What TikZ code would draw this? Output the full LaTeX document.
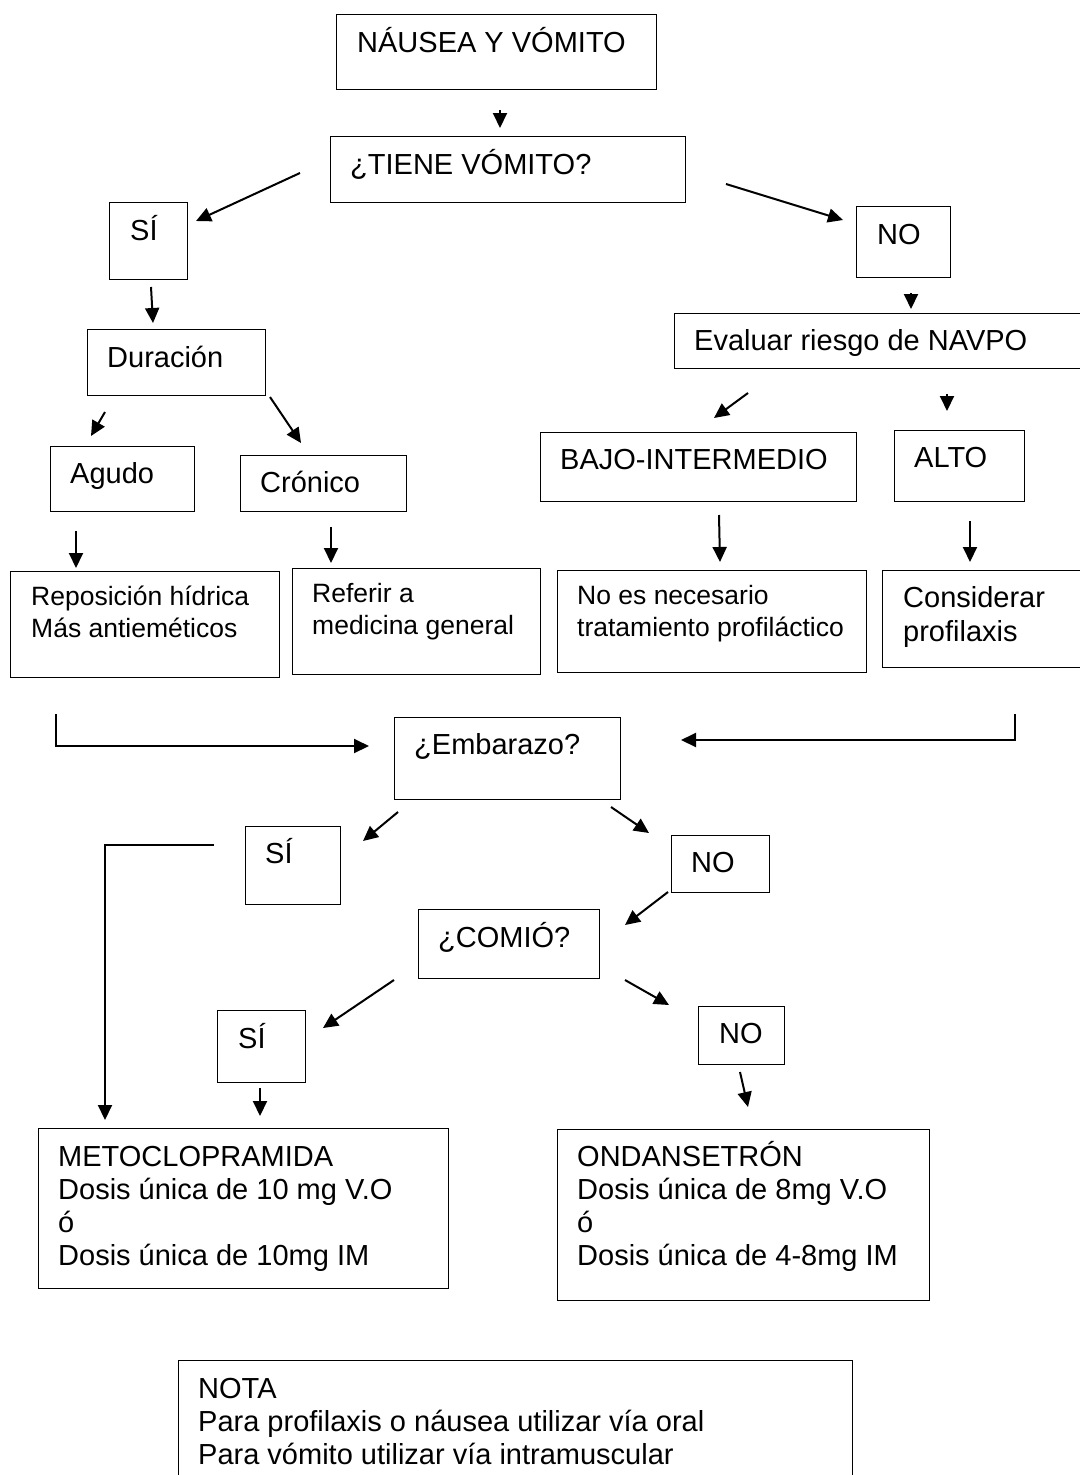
\documentclass[tikz,border=0pt]{standalone}
\usepackage{fontspec}
\setmainfont{Liberation Sans}
\usetikzlibrary{arrows.meta}

\tikzset{
  box/.style={draw, line width=1.3pt, anchor=north west, inner sep=0pt},
  txt/.style={anchor=base west, inner sep=0pt, align=left, font=\fontsize{29}{33}\selectfont},
  txtsm/.style={txt, font=\fontsize{26.5}{32}\selectfont},
  arr/.style={-{Triangle[length=15pt,width=14pt]}, line width=2pt},
}

\begin{document}
\begin{tikzpicture}[x=1pt, y=-1pt]
    \useasboundingbox (0,0) rectangle (1079,1475);

    % Boxes
    \node[box, minimum width=320, minimum height=75] (nausea) at (336,14) {};
    \node[box, minimum width=355, minimum height=66] (tiene) at (330,136) {};
    \node[box, minimum width=78, minimum height=77] (si1) at (109,202) {};
    \node[box, minimum width=94, minimum height=71] (no1) at (856,206) {};
    \node[box, minimum width=416, minimum height=55] (navpo) at (674,313) {};
    \node[box, minimum width=178, minimum height=66] (duracion) at (87,329) {};
    \node[box, minimum width=144, minimum height=65] (agudo) at (50,446) {};
    \node[box, minimum width=166, minimum height=56] (cronico) at (240,455) {};
    \node[box, minimum width=316, minimum height=69] (bajo) at (540,432) {};
    \node[box, minimum width=130, minimum height=71] (alto) at (894,430) {};
    \node[box, minimum width=269, minimum height=106] (repos) at (10,571) {};
    \node[box, minimum width=248, minimum height=106] (referir) at (292,568) {};
    \node[box, minimum width=309, minimum height=102] (noes) at (557,570) {};
    \node[box, minimum width=208, minimum height=97] (consid) at (882,570) {};
    \node[box, minimum width=226, minimum height=82] (embarazo) at (394,717) {};
    \node[box, minimum width=95, minimum height=78] (si2) at (245,826) {};
    \node[box, minimum width=98, minimum height=57] (no2) at (671,835) {};
    \node[box, minimum width=181, minimum height=69] (comio) at (418,909) {};
    \node[box, minimum width=88, minimum height=72] (si3) at (217,1010) {};
    \node[box, minimum width=86, minimum height=58] (no3) at (698,1006) {};
    \node[box, minimum width=410, minimum height=160] (meto) at (38,1128) {};
    \node[box, minimum width=372, minimum height=171] (ondan) at (557,1129) {};
    \node[box, minimum width=674, minimum height=130] (nota) at (178,1360) {};

    % Texts (multi-line texts sit on the baseline of their last line)
    \node[txt] (nausea-t) at (357,52) {NÁUSEA Y VÓMITO};
    \node[txt] (tiene-t) at (350,174) {¿TIENE VÓMITO?};
    \node[txt] (si1-t) at (130,240) {SÍ};
    \node[txt] (no1-t) at (877,244) {NO};
    \node[txt] (navpo-t) at (694,350) {Evaluar riesgo de NAVPO};
    \node[txt] (duracion-t) at (107,367) {Duración};
    \node[txt] (agudo-t) at (70,483) {Agudo};
    \node[txt] (cronico-t) at (260,492) {Crónico};
    \node[txt] (bajo-t) at (560,469) {BAJO-INTERMEDIO};
    \node[txt] (alto-t) at (914,467) {ALTO};
    \node[txtsm] (repos-t) at (31,637) {Reposición hídrica\\Más antieméticos};
    \node[txtsm] (referir-t) at (312,634) {Referir a\\medicina general};
    \node[txtsm] (noes-t) at (577,636) {No es necesario\\tratamiento profiláctico};
    \node[txt, font=\fontsize{29}{34}\selectfont] (consid-t) at (903,641) {Considerar\\profilaxis};
    \node[txt] (embarazo-t) at (414,754) {¿Embarazo?};
    \node[txt] (si2-t) at (265,863) {SÍ};
    \node[txt] (no2-t) at (691,872) {NO};
    \node[txt] (comio-t) at (438,947) {¿COMIÓ?};
    \node[txt] (si3-t) at (238,1048) {SÍ};
    \node[txt] (no3-t) at (719,1043) {NO};
    \node[txt] (meto-t) at (58,1265) {METOCLOPRAMIDA\\Dosis única de 10 mg V.O\\ó\\Dosis única de 10mg IM};
    \node[txt] (ondan-t) at (577,1265) {ONDANSETRÓN\\Dosis única de 8mg V.O\\ó\\Dosis única de 4-8mg IM};
    \node[txt] (nota-t) at (198,1464) {NOTA\\Para profilaxis o náusea utilizar vía oral\\Para vómito utilizar vía intramuscular};

    % Arrow ends
    \coordinate (nausea-out) at (500,110);
    \coordinate (tiene-in) at (500,128);
    \coordinate (tiene-l) at (300,173);
    \coordinate (si1-in) at (196,221);
    \coordinate (tiene-r) at (726,184);
    \coordinate (no1-in) at (843,220);
    \coordinate (si1-out) at (151,287);
    \coordinate (duracion-in) at (153,323);
    \coordinate (no1-out) at (911,293);
    \coordinate (navpo-in) at (911,309);
    \coordinate (duracion-l) at (105,412);
    \coordinate (agudo-in) at (91,436);
    \coordinate (duracion-r) at (270,397);
    \coordinate (cronico-in) at (301,443);
    \coordinate (navpo-l) at (748,393);
    \coordinate (bajo-in) at (714,418);
    \coordinate (navpo-r) at (947,394);
    \coordinate (alto-in) at (947,411);
    \coordinate (agudo-out) at (76,531);
    \coordinate (repos-in) at (76,568);
    \coordinate (cronico-out) at (331,527);
    \coordinate (referir-in) at (331,563);
    \coordinate (bajo-out) at (719,515);
    \coordinate (noes-in) at (720,562);
    \coordinate (alto-out) at (970,521);
    \coordinate (consid-in) at (970,562);
    \coordinate (izq) at (56,714);
    \coordinate (embarazo-l) at (369,746);
    \coordinate (der) at (1015,714);
    \coordinate (embarazo-r) at (681,740);
    \coordinate (embarazo-sl) at (398,812);
    \coordinate (si2-in) at (363,841);
    \coordinate (embarazo-sr) at (611,807);
    \coordinate (no2-in) at (649,833);
    \coordinate (si2-out) at (214,845);
    \coordinate (meto-l) at (105,1120);
    \coordinate (no2-out) at (668,892);
    \coordinate (comio-in) at (625,925);
    \coordinate (comio-l) at (394,980);
    \coordinate (si3-in) at (323,1028);
    \coordinate (comio-r) at (625,980);
    \coordinate (no3-in) at (669,1005);
    \coordinate (si3-out) at (260,1088);
    \coordinate (meto-in) at (260,1116);
    \coordinate (no3-out) at (740,1072);
    \coordinate (ondan-in) at (748,1107);

    % Arrows
    \draw[arr] (nausea-out) -- (tiene-in);
    \draw[arr] (tiene-l) -- (si1-in);
    \draw[arr] (tiene-r) -- (no1-in);
    \draw[arr] (si1-out) -- (duracion-in);
    \draw[arr] (no1-out) -- (navpo-in);
    \draw[arr] (duracion-l) -- (agudo-in);
    \draw[arr] (duracion-r) -- (cronico-in);
    \draw[arr] (navpo-l) -- (bajo-in);
    \draw[arr] (navpo-r) -- (alto-in);
    \draw[arr] (agudo-out) -- (repos-in);
    \draw[arr] (cronico-out) -- (referir-in);
    \draw[arr] (bajo-out) -- (noes-in);
    \draw[arr] (alto-out) -- (consid-in);
    \draw[arr] (izq) |- (embarazo-l);
    \draw[arr] (der) |- (embarazo-r);
    \draw[arr] (embarazo-sl) -- (si2-in);
    \draw[arr] (embarazo-sr) -- (no2-in);
    \draw[arr] (si2-out) -| (meto-l);
    \draw[arr] (no2-out) -- (comio-in);
    \draw[arr] (comio-l) -- (si3-in);
    \draw[arr] (comio-r) -- (no3-in);
    \draw[arr] (si3-out) -- (meto-in);
    \draw[arr] (no3-out) -- (ondan-in);
\end{tikzpicture}
\end{document}
